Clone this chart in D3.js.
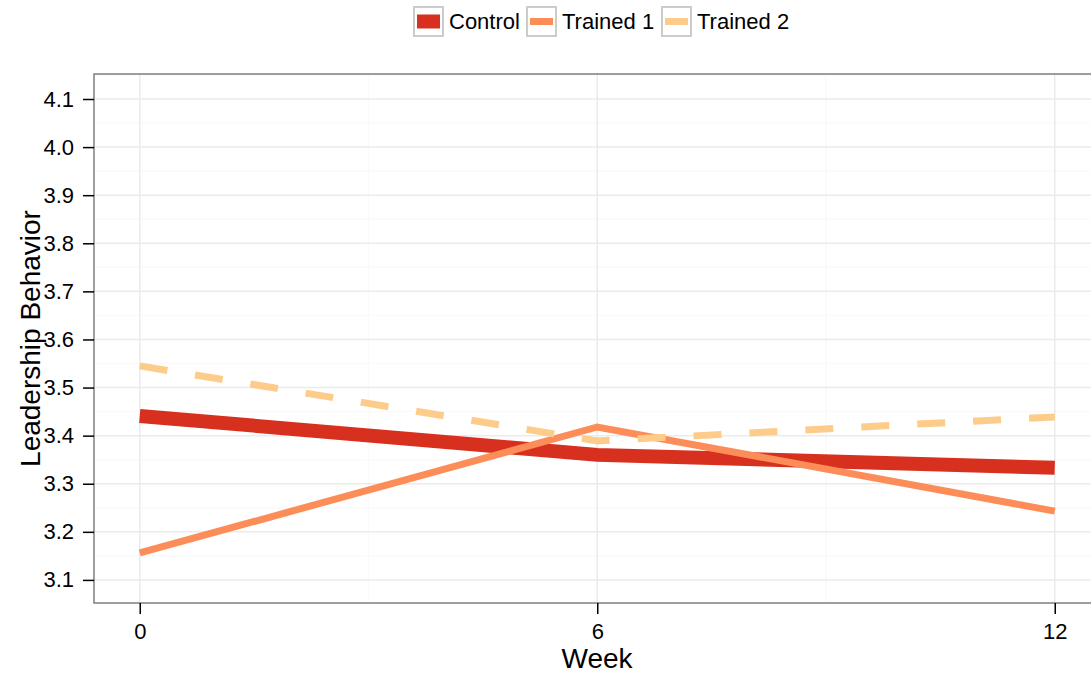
<!DOCTYPE html>
<html><head><meta charset="utf-8">
<script src="https://cdn.jsdelivr.net/npm/d3@7"></script>
<style>body{margin:0;background:#fff}svg{display:block;font-family:"Liberation Sans",Arial,sans-serif}</style>
</head><body>
<svg id="c" width="1091" height="673"></svg>
<script>
const weeks = [0, 6, 12];
const seriesNames = ["Control", "Trained 1", "Trained 2"];
const control = [3.441, 3.360, 3.333];
const trained1 = [3.156, 3.418, 3.243];
const trained2 = [3.545, 3.389, 3.439];
const yTicks = [3.1, 3.2, 3.3, 3.4, 3.5, 3.6, 3.7, 3.8, 3.9, 4.0, 4.1];
const xTicks = [0, 6, 12];

const colors = ["#D7301F", "#FC8D59", "#FDCC8A"];
const widths = [14, 7, 7];
const dashes = [null, null, "28,28"];
const allSeries = [control, trained1, trained2];

const svg = d3.select("#c");
const L = 94, T = 74, B = 603;
const x = d3.scaleLinear().domain([-0.6, 12.6]).range([L, L + (1054 - 139) / 12 * 13.2]);
const y = d3.scaleLinear().domain([3.052, 4.152]).range([B, T]);
const R = x(12.6);

const defs = svg.append("defs");
defs.append("clipPath").attr("id", "clip").append("rect")
  .attr("x", L).attr("y", T).attr("width", R - L).attr("height", B - T);

const g = svg.append("g");
// minor grids
const yMinor = yTicks.map(v => v + 0.05).filter(v => v < 4.152);
g.selectAll(".ymin").data(yMinor).join("line")
  .attr("x1", L).attr("x2", R).attr("y1", d => y(d)).attr("y2", d => y(d))
  .attr("stroke", "#FAFAFA").attr("stroke-width", 1.5);
g.selectAll(".xmin").data([3, 9]).join("line")
  .attr("y1", T).attr("y2", B).attr("x1", d => x(d)).attr("x2", d => x(d))
  .attr("stroke", "#FAFAFA").attr("stroke-width", 1.5);
// major grids
g.selectAll(".ymaj").data(yTicks).join("line")
  .attr("x1", L).attr("x2", R).attr("y1", d => y(d)).attr("y2", d => y(d))
  .attr("stroke", "#EBEBEB").attr("stroke-width", 1.5);
g.selectAll(".xmaj").data(xTicks).join("line")
  .attr("y1", T).attr("y2", B).attr("x1", d => x(d)).attr("x2", d => x(d))
  .attr("stroke", "#EBEBEB").attr("stroke-width", 1.5);

// lines
const line = d3.line().x((d, i) => x(weeks[i])).y(d => y(d));
const lg = svg.append("g").attr("clip-path", "url(#clip)");
allSeries.forEach((s, k) => {
  lg.append("path").datum(s).attr("d", line)
    .attr("fill", "none").attr("stroke", colors[k]).attr("stroke-width", widths[k])
    .attr("stroke-linejoin", "miter").attr("stroke-linecap", "butt")
    .attr("stroke-dasharray", dashes[k]);
});

// panel border
svg.append("rect").attr("x", L).attr("y", T).attr("width", R - L).attr("height", B - T)
  .attr("fill", "none").attr("stroke", "#7F7F7F").attr("stroke-width", 1.5);

// y axis
const ya = svg.append("g").attr("transform", `translate(${L},0)`)
  .call(d3.axisLeft(y).tickValues(yTicks).tickFormat(d3.format(".1f")).tickSize(11).tickPadding(9));
ya.select(".domain").remove();
ya.selectAll(".tick line").attr("stroke", "#000").attr("stroke-width", 1.5);
ya.selectAll(".tick text").attr("font-size", 22).attr("fill", "#000").attr("font-family", "Liberation Sans, Arial, sans-serif");

// x axis
const xa = svg.append("g").attr("transform", `translate(0,${B})`)
  .call(d3.axisBottom(x).tickValues(xTicks).tickFormat(d3.format("d")).tickSize(11).tickPadding(9));
xa.select(".domain").remove();
xa.selectAll(".tick line").attr("stroke", "#000").attr("stroke-width", 1.5);
xa.selectAll(".tick text").attr("font-size", 22).attr("fill", "#000").attr("font-family", "Liberation Sans, Arial, sans-serif");

// titles
svg.append("text").attr("x", 597).attr("y", 668).attr("text-anchor", "middle")
  .attr("font-size", 28).attr("fill", "#000").text("Week");
svg.append("text").attr("transform", `translate(40,${(T + B) / 2}) rotate(-90)`)
  .attr("text-anchor", "middle").attr("font-size", 28).attr("fill", "#000").text("Leadership Behavior");

// legend
const legX = [413, 526, 661];
const leg = svg.append("g");
seriesNames.forEach((n, k) => {
  const kg = leg.append("g").attr("transform", `translate(${legX[k]},6)`);
  kg.append("rect").attr("x", 1).attr("y", 1).attr("width", 29).attr("height", 29)
    .attr("fill", "#fff").attr("stroke", "#CCCCCC").attr("stroke-width", 2);
  kg.append("line").attr("x1", 4).attr("x2", 27).attr("y1", 15.5).attr("y2", 15.5)
    .attr("stroke", colors[k]).attr("stroke-width", widths[k]);
  kg.append("text").attr("x", 36).attr("y", 23).attr("font-size", 22).attr("fill", "#000").text(n);
});
</script>
</body></html>
